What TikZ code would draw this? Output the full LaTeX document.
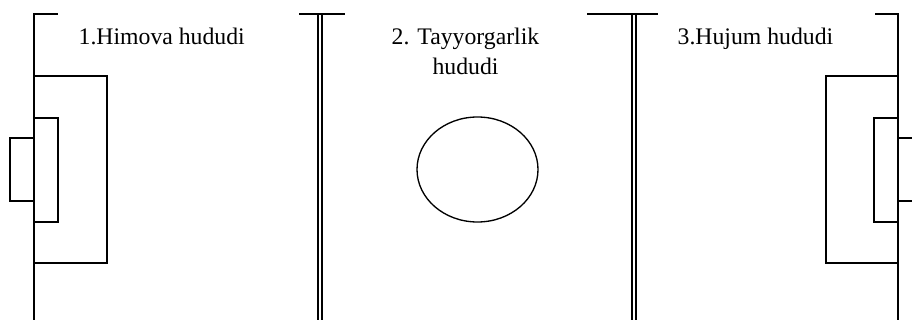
\documentclass[tikz,border=0pt]{standalone}
\usepackage{fontspec}
\setmainfont{Liberation Serif}
\begin{document}
\begin{tikzpicture}[x=0.75pt,y=-0.75pt,line width=1pt,
  zone/.style={font=\fontsize{17.8}{22.5}\selectfont,inner sep=0pt},
  border/.style={line width=0.85pt}]
\useasboundingbox (0,0) rectangle (912,320);
\draw (34,320) -- (34,14) -- (58,14);
\draw (299,14) -- (345,14);
\draw (587,14) -- (658,14);
\draw (875,14) -- (898,14) -- (898,320);

\draw[border] (318,14) -- (318,320);
\draw[border] (322,14) -- (322,320);
\draw[border] (632,14) -- (632,320);
\draw[border] (636,14) -- (636,320);

\draw (34,76) -- (107,76) -- (107,263) -- (34,263);
\draw (34,118) -- (58,118) -- (58,222) -- (34,222);
\draw (34,138) -- (10,138) -- (10,201) -- (34,201);

\draw (898,76) -- (826,76) -- (826,263) -- (898,263);
\draw (898,118) -- (874,118) -- (874,222) -- (898,222);
\draw (898,138) -- (914,138) -- (914,201) -- (898,201);

\draw (477.5,169.5) ellipse [x radius=60.5, y radius=52.5];

\node[zone,anchor=base west] (zone1) at (78,45) {1.Himova hududi};
\node[zone,anchor=base,align=center] (zone2) at (465.5,75) {2. Tayyorgarlik\\hududi};
\node[zone,anchor=base west] (zone3) at (677,45) {3.Hujum hududi};
\end{tikzpicture}
\end{document}
